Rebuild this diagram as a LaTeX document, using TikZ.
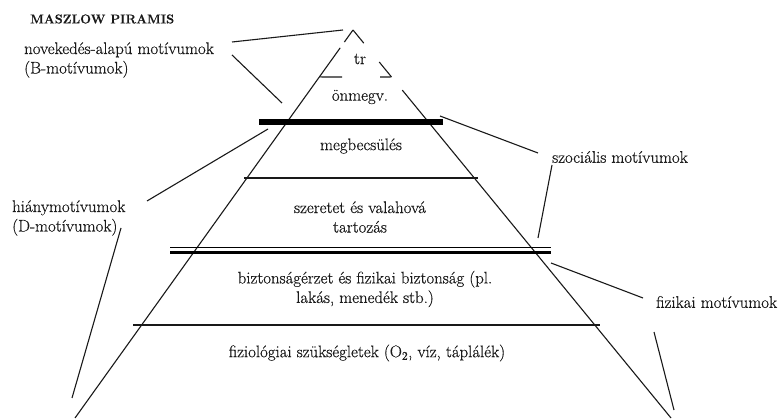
\documentclass[tikz,border=0pt]{standalone}
\usepackage{fontspec}
\setmainfont{Latin Modern Roman}[FakeBold=0.5]
\usetikzlibrary{calc}
\begin{document}
\begin{tikzpicture}[x=1pt,y=-1pt,
  edge/.style={line width=1.1pt, black!90},
  conn/.style={line width=1.1pt, black!90},
  lbl/.style={font=\fontsize{16.8}{19.5}\selectfont, inner sep=0pt, text=black!90},
  lvl/.style={lbl, align=center},
  side/.style={lbl, align=left, anchor=west}]
\useasboundingbox (0,0) rectangle (782,419);

% pyramid corners
\coordinate (apex) at (353,30);
\coordinate (bl) at (75,418);
\coordinate (br) at (671,418);

% left leg with gap
\draw[edge] (apex) -- ($(apex)!0.031!(bl)$);
\draw[edge] ($(apex)!0.046!(bl)$) -- (bl);
% right leg with gaps
\draw[edge] (apex) -- ($(apex)!0.034!(br)$);
\draw[edge] ($(apex)!0.0825!(br)$) -- ($(apex)!0.121!(br)$);
\draw[edge] ($(apex)!0.155!(br)$) -- (br);
% base of top triangle
\coordinate (tl) at ($(apex)!0.121!(bl)$);
\coordinate (tr) at ($(apex)!0.121!(br)$);
\draw[edge] (tl) -- (342,77);
\draw[edge] (380,77) -- (tr);

% level separators
\coordinate (b1l) at (259,122); \coordinate (b1r) at (443,122);
\draw[line width=5.6pt] (b1l) -- (b1r);
\coordinate (s1l) at (244,178); \coordinate (s1r) at (478,178);
\draw[edge] (s1l) -- (s1r);
\coordinate (d1l) at (170,248); \coordinate (d1r) at (551,248);
\draw[line width=1pt] (d1l) -- (d1r);
\draw[line width=3pt] ($(d1l)+(0,4.6)$) -- ($(d1r)+(0,4.6)$);
\coordinate (s2l) at (133,325); \coordinate (s2r) at (600,325);
\draw[edge] (s2l) -- (s2r);

% level texts
\node[lvl] (ltr) at (360,59) {tr};
\node[lvl] (lonm) at (360,97) {önmegv.};
\node[lvl] (lmeg) at (361,146) {megbecsülés};
\node[lvl] (lsz) at (360,217) {szeretet és valahová\\tartozás};
\node[lvl] (lbiz) at (365,289) {biztonságérzet és fizikai biztonság (pl.\\lakás, menedék stb.)};
\node[lvl] (lfiz) at (367,353) {fiziológiai szükségletek (O\textsubscript{2}, víz, táplálék)};

% title
\node[inner sep=0pt, anchor=west, font=\fontsize{12.8}{14}\selectfont\bfseries, text=black!90] (title) at (30,19) {MASZLOW PIRAMIS};

% side labels
\node[side] (nov) at (24,60) {novekedés-alapú motívumok\\(B-motívumok)};
\node[side] (hiany) at (12,218) {hiánymotívumok\\(D-motívumok)};
\node[side] (szoc) at (552,157) {szociális motívumok};
\node[side] (fizm) at (656,302) {fizikai motívumok};

% connector endpoints
\coordinate (n1a) at (232,42); \coordinate (n1b) at (343,30);
\coordinate (n2a) at (232,55); \coordinate (n2b) at (282,103);
\coordinate (h1a) at (147,201); \coordinate (h1b) at (268,129);
\coordinate (h2a) at (121,228); \coordinate (h2b) at (72,398);
\coordinate (z1a) at (538,153); \coordinate (z1b) at (440,116);
\coordinate (z2a) at (552,165); \coordinate (z2b) at (538,238);
\coordinate (f1a) at (643,298); \coordinate (f1b) at (551,263);
\coordinate (f2a) at (654,332); \coordinate (f2b) at (674,410);

\draw[conn] (n1a) -- (n1b);
\draw[conn] (n2a) -- (n2b);
\draw[conn] (h1a) -- (h1b);
\draw[conn] (h2a) -- (h2b);
\draw[conn] (z1a) -- (z1b);
\draw[conn] (z2a) -- (z2b);
\draw[conn] (f1a) -- (f1b);
\draw[conn] (f2a) -- (f2b);
\end{tikzpicture}
\end{document}
